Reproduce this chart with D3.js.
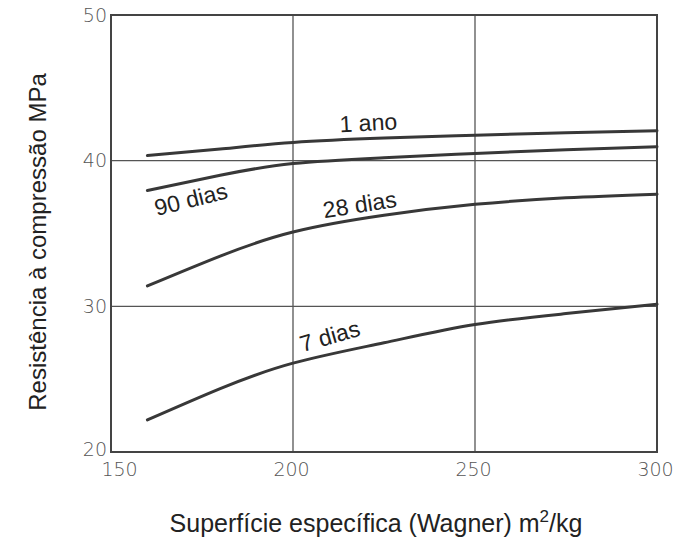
<!DOCTYPE html>
<html>
<head>
<meta charset="utf-8">
<script src="https://cdn.jsdelivr.net/npm/d3@7"></script>
<style>
  html, body { margin: 0; padding: 0; background: #fff; }
  svg { display: block; }
</style>
</head>
<body>
<svg id="chart" width="675" height="538"></svg>
<script>
// Specific surface (Wagner), m²/kg
const surface = [160, 180, 200, 225, 250, 275, 300];

// Compressive strength (MPa) by curing age
const ano1   = [40.35, 40.8, 41.25, 41.55, 41.75, 41.92, 42.05];
const dias90 = [37.95, 39.0, 39.8, 40.2, 40.5, 40.75, 40.95];
const dias28 = [31.4, 33.45, 35.1, 36.25, 37.0, 37.45, 37.7];
const dias7  = [22.2, 24.35, 26.1, 27.5, 28.75, 29.5, 30.15];

const seriesNames = ["1 ano", "90 dias", "28 dias", "7 dias"];
const seriesValues = [ano1, dias90, dias28, dias7];

const xTicks = [150, 200, 250, 300];
const yTicks = [20, 30, 40, 50];

// Label anchors along each curve: [surface, strength, angle]
const labelPos = [
  [212.9, 41.95, -3],
  [162.6, 36.2, -14],
  [208.6, 36.05, -9],
  [202.6, 26.85, -16]
];

const svg = d3.select("#chart");
const plotLeft = 111, plotRight = 657, plotTop = 15, plotBottom = 452;

const x = d3.scaleLinear().domain([150, 300]).range([plotLeft, plotRight]);
const y = d3.scaleLinear().domain([20, 50]).range([plotBottom, plotTop]);

// interior grid
svg.append("g").selectAll("line")
  .data(xTicks.slice(1, -1)).join("line")
  .attr("x1", d => x(d)).attr("x2", d => x(d))
  .attr("y1", plotTop).attr("y2", plotBottom)
  .attr("stroke", "#555").attr("stroke-width", 1.3);
svg.append("g").selectAll("line")
  .data(yTicks.slice(1, -1)).join("line")
  .attr("x1", plotLeft).attr("x2", plotRight)
  .attr("y1", d => y(d)).attr("y2", d => y(d))
  .attr("stroke", "#555").attr("stroke-width", 1.3);

// frame
svg.append("rect")
  .attr("x", plotLeft).attr("y", plotTop)
  .attr("width", plotRight - plotLeft).attr("height", plotBottom - plotTop)
  .attr("fill", "none").attr("stroke", "#444").attr("stroke-width", 2);

// axes (labels only)
const xAxis = svg.append("g")
  .attr("transform", `translate(0,${plotBottom})`)
  .call(d3.axisBottom(x).tickValues(xTicks).tickSize(0).tickPadding(11));
const yAxis = svg.append("g")
  .attr("transform", `translate(${plotLeft},0)`)
  .call(d3.axisLeft(y).tickValues(yTicks).tickSize(0).tickPadding(4));
[xAxis, yAxis].forEach(g => {
  g.select(".domain").remove();
  g.selectAll("text")
    .attr("font-family", "'DejaVu Sans', sans-serif")
    .attr("font-weight", 200)
    .attr("font-size", 19)
    .attr("fill", "#555");
});
// nudge the corner labels apart
xAxis.selectAll(".tick text").attr("dx", d => d === 150 ? 8 : -2);
yAxis.selectAll(".tick text").attr("dy", d => d === 20 ? "0.2em" : "0.32em");

// curves
const line = d3.line()
  .x((d, i) => x(surface[i]))
  .y(d => y(d))
  .curve(d3.curveNatural);

svg.append("g").selectAll("path")
  .data(seriesValues).join("path")
  .attr("d", line)
  .attr("fill", "none")
  .attr("stroke", "#383838")
  .attr("stroke-width", 3)
  .attr("stroke-linecap", "round");

// curve labels
svg.append("g").selectAll("text")
  .data(seriesNames).join("text")
  .attr("transform", (d, i) => `translate(${x(labelPos[i][0])},${y(labelPos[i][1])}) rotate(${labelPos[i][2]})`)
  .attr("font-family", "'Liberation Sans', Arial, sans-serif")
  .attr("font-size", 23)
  .attr("fill", "#222")
  .text(d => d);

// axis titles
const xt = svg.append("text")
  .attr("x", 376).attr("y", 532)
  .attr("text-anchor", "middle")
  .attr("font-family", "'Liberation Sans', Arial, sans-serif")
  .attr("font-size", 25)
  .attr("fill", "#222");
xt.append("tspan").text("Superfície específica (Wagner) m");
xt.append("tspan").attr("font-size", 17).attr("dy", -10).text("2");
xt.append("tspan").attr("dy", 10).text("/kg");

svg.append("text")
  .attr("transform", "translate(46,242) rotate(-90)")
  .attr("text-anchor", "middle")
  .attr("font-family", "'Liberation Sans', Arial, sans-serif")
  .attr("font-size", 24)
  .attr("fill", "#222")
  .text("Resistência à compressão MPa");
</script>
</body>
</html>
